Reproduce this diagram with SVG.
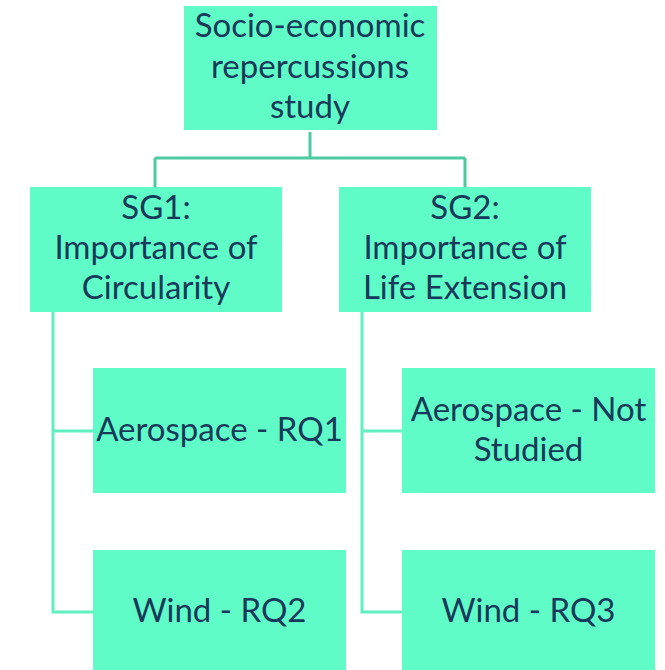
<svg xmlns="http://www.w3.org/2000/svg" width="665" height="670" viewBox="0 0 665 670">
<style>
.box{fill:#5FFCC8;}
.t{font-family:Lato,"Open Sans",sans-serif;font-size:33px;fill:#17395A;text-anchor:middle;}
.c1{stroke:#4CC9A0;stroke-width:3;fill:none;}
.c2{stroke:#5FEFC0;stroke-width:3;fill:none;}
</style>
<rect width="665" height="670" fill="#FFFFFF"/>
<g id="connectors">
<path class="c1" d="M310,132 V158 M155,158 H465 M155,158 V187 M465,158 V187"/>
<path class="c2" d="M53,312 V612 H93 M53,431 H93"/>
<path class="c2" d="M362,312 V612 H402 M362,431 H402"/>
</g>
<g id="root">
<rect class="box" x="184" y="6" width="253" height="124"/>
<text class="t" x="310" y="37">Socio-economic</text>
<text class="t" x="310" y="78">repercussions</text>
<text class="t" x="310" y="118">study</text>
</g>
<g id="sg1">
<rect class="box" x="30" y="187" width="252" height="125"/>
<text class="t" x="156" y="219">SG1:</text>
<text class="t" x="156" y="259">Importance of</text>
<text class="t" x="156" y="299">Circularity</text>
</g>
<g id="sg2">
<rect class="box" x="339" y="187" width="252" height="125"/>
<text class="t" x="465" y="219">SG2:</text>
<text class="t" x="465" y="259">Importance of</text>
<text class="t" x="465" y="299">Life Extension</text>
</g>
<g id="aero1">
<rect class="box" x="93" y="368" width="253" height="125"/>
<text class="t" x="219.5" y="441">Aerospace - RQ1</text>
</g>
<g id="wind2">
<rect class="box" x="93" y="550" width="253" height="120"/>
<text class="t" x="219.5" y="622">Wind - RQ2</text>
</g>
<g id="aero2">
<rect class="box" x="402" y="368" width="253" height="125"/>
<text class="t" x="528.5" y="421">Aerospace - Not</text>
<text class="t" x="528.5" y="461">Studied</text>
</g>
<g id="wind3">
<rect class="box" x="402" y="550" width="253" height="120"/>
<text class="t" x="528.5" y="622">Wind - RQ3</text>
</g>
</svg>
